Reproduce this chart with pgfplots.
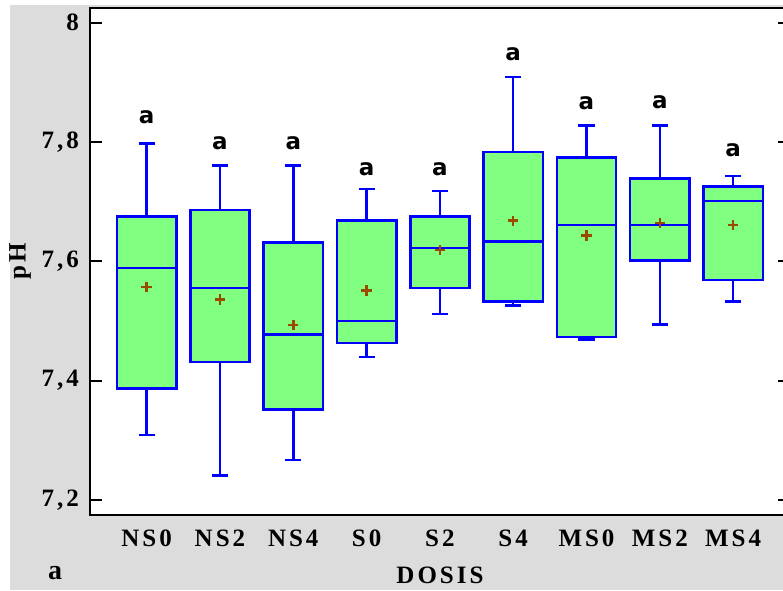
\documentclass[border=0pt]{standalone}
\usepackage{pgfplots}
\pgfplotsset{compat=1.18}
\usepgfplotslibrary{statistics}
\usepackage{fontspec}
\setmainfont{Liberation Serif}
\newfontfamily\lab{Liberation Serif}[LetterSpace=12]
\newfontfamily\asans{DejaVu Sans}
\definecolor{bgray}{RGB}{220,220,220}
\definecolor{boxgreen}{RGB}{128,255,128}
\definecolor{boxblue}{RGB}{0,0,255}
\definecolor{meanbrown}{RGB}{153,76,0}
\pgfplotsset{mybox/.style={draw=boxblue, fill=boxgreen, /tikz/line width=1.3pt, solid,
  boxplot/draw direction=y,
  boxplot/box extend=0.81, boxplot/whisker extend=0.22,
  boxplot/every box/.style={/tikz/line width=1.3pt},
  boxplot/every median/.style={/tikz/line width=1.3pt},
  boxplot/every whisker/.style={/tikz/line width=1.3pt}}}
\begin{document}
\begin{tikzpicture}
\fill[bgray] (5pt,0pt) rectangle (391.5pt,292.5pt);
\begin{axis}[
 at={(45pt,37.5pt)}, anchor=south west,
 scale only axis, width=350pt, height=253.5pt,
 xmin=-0.773, xmax=8.776, ymin=7.1749, ymax=8.0245,
 axis background/.style={fill=white},
 axis line style={black, line width=1pt},
 xtick={0,...,8}, xticklabels={NS0,NS2,NS4,S0,S2,S4,MS0,MS2,MS4},
 x tick style={draw=none},
 ytick={7.2,7.4,7.6,7.8,8},
 y tick style={black, line width=1pt},
 tick align=inside, major tick length=6pt,
 ytick pos=both,
 ticklabel style={font=\lab\fontsize{12.5}{15}\selectfont\bfseries},
 yticklabel style={xshift=-2pt, /pgf/number format/use comma, /pgf/number format/fixed, /pgf/number format/precision=1, /pgf/number format/assume math mode=true},
 xticklabel style={yshift=-4pt},
 ylabel={pH},
 ylabel style={at={(axis description cs:-0.1,0.5)}, anchor=center, font=\lab\fontsize{12.5}{15}\selectfont\bfseries},
 xlabel={DOSIS},
 xlabel style={at={(axis description cs:0.5,-0.12)}, anchor=center, font=\lab\fontsize{12.5}{15}\selectfont\bfseries},
]
\addplot[mybox, boxplot prepared={draw position=0, lower whisker=7.309, lower quartile=7.387, median=7.589, upper quartile=7.675, upper whisker=7.797}] coordinates {};
\addplot[mybox, boxplot prepared={draw position=1, lower whisker=7.241, lower quartile=7.431, median=7.555, upper quartile=7.686, upper whisker=7.761}] coordinates {};
\addplot[mybox, boxplot prepared={draw position=2, lower whisker=7.267, lower quartile=7.352, median=7.477, upper quartile=7.632, upper whisker=7.761}] coordinates {};
\addplot[mybox, boxplot prepared={draw position=3, lower whisker=7.440, lower quartile=7.463, median=7.500, upper quartile=7.668, upper whisker=7.721}] coordinates {};
\addplot[mybox, boxplot prepared={draw position=4, lower whisker=7.512, lower quartile=7.555, median=7.622, upper quartile=7.675, upper whisker=7.718}] coordinates {};
\addplot[mybox, boxplot prepared={draw position=5, lower whisker=7.526, lower quartile=7.533, median=7.633, upper quartile=7.783, upper whisker=7.909}] coordinates {};
\addplot[mybox, boxplot prepared={draw position=6, lower whisker=7.469, lower quartile=7.473, median=7.661, upper quartile=7.774, upper whisker=7.828}] coordinates {};
\addplot[mybox, boxplot prepared={draw position=7, lower whisker=7.494, lower quartile=7.601, median=7.661, upper quartile=7.739, upper whisker=7.828}] coordinates {};
\addplot[mybox, boxplot prepared={draw position=8, lower whisker=7.533, lower quartile=7.569, median=7.701, upper quartile=7.725, upper whisker=7.743}] coordinates {};
% means
\addplot[only marks, mark=+, mark size=2.6pt, color=meanbrown, mark options={line width=1.3pt}] coordinates {
 (0,7.557) (1,7.536) (2,7.493) (3,7.551) (4,7.619) (5,7.668) (6,7.643) (7,7.664) (8,7.661)};
\tikzset{lett/.style={font=\asans\bfseries\fontsize{11.5}{12}\selectfont, inner sep=0pt}}
\node[lett] at (axis cs:0,7.841) {a};
\node[lett] at (axis cs:1,7.798) {a};
\node[lett] at (axis cs:2,7.798) {a};
\node[lett] at (axis cs:3,7.754) {a};
\node[lett] at (axis cs:4,7.754) {a};
\node[lett] at (axis cs:5,7.947) {a};
\node[lett] at (axis cs:6,7.865) {a};
\node[lett] at (axis cs:7,7.866) {a};
\node[lett] at (axis cs:8,7.787) {a};
\end{axis}
\node[font=\lab\fontsize{14}{16}\selectfont\bfseries] at (27.5pt,8.5pt) {a};
\pgfresetboundingbox
\path (0pt,0pt) rectangle (391.5pt,295pt);
\end{tikzpicture}
\end{document}
